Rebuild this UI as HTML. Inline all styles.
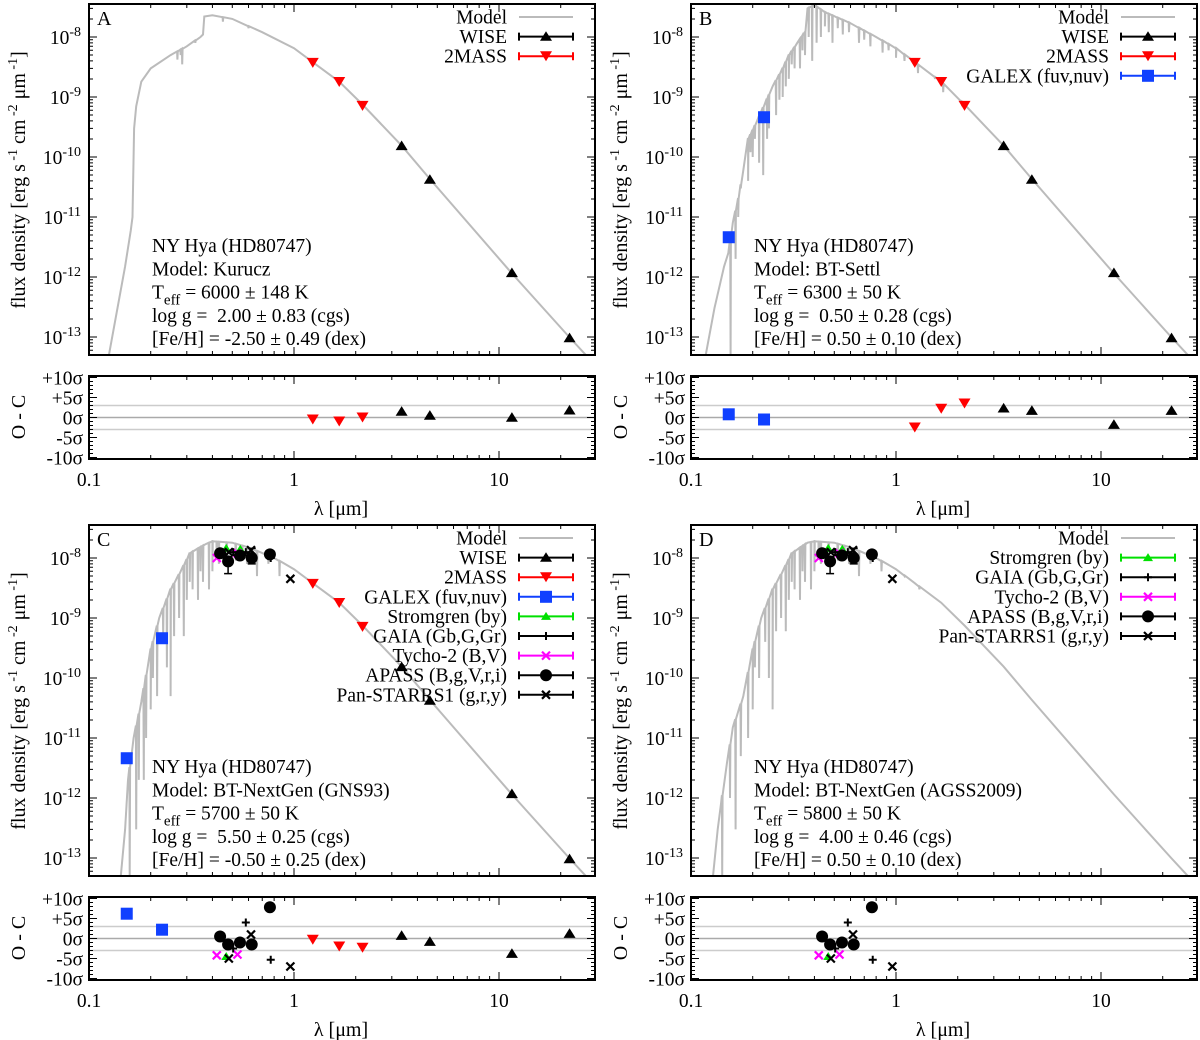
<!DOCTYPE html>
<html><head><meta charset="utf-8">
<style>
html,body{margin:0;padding:0;background:#fff;}
svg{display:block;font-family:"Liberation Serif","DejaVu Serif",serif;}
</style></head>
<body>
<svg id="fig" width="1200" height="1040" viewBox="0 0 1200 1040" xmlns="http://www.w3.org/2000/svg"></svg>
<script>
// ---------- data ----------
const wise_lam = [3.35, 4.6, 11.56, 22.09];
const twomass_lam = [1.235, 1.662, 2.159];
const galex_lam = [0.1528, 0.2271];
const strom_lam = [0.467, 0.547];
const gaia_lam = [0.505, 0.582, 0.77];
const tycho_lam = [0.42, 0.53];
const apass_lam = [0.436, 0.477, 0.545, 0.622, 0.763];
const panstarrs_lam = [0.481, 0.617, 0.96];

const wise_flux = [1.53e-10, 4.2e-11, 1.17e-12, 9.6e-14];
const twomass_flux = [3.7e-9, 1.78e-9, 7.1e-10];
const galex_flux = [4.6e-12, 4.6e-10];
const strom_flux = [1.45e-8, 1.4e-8];
const gaia_flux = [1.25e-8, 1.25e-8, 1.0e-8];
const tycho_flux = [1.0e-8, 1.2e-8];
const apass_flux = [1.2e-8, 8.8e-9, 1.1e-8, 1.0e-8, 1.15e-8];
const panstarrs_flux = [1.25e-8, 1.35e-8, 4.5e-9];

const resA_wise = [1.5, 0.5, 0, 1.8];
const resA_2mass = [-0.5, -1.0, 0.0];
const resB_wise = [2.3, 1.7, -1.8, 1.7];
const resB_2mass = [-2.5, 2.2, 3.5];
const resB_galex = [0.8, -0.5];
const resC_wise = [0.7, -0.8, -3.8, 1.2];
const resC_2mass = [-0.3, -2.0, -2.3];
const resC_galex = [6.2, 2.2];
const res_strom = [-4.5, -1.0];
const res_gaia = [-2.5, 4.0, -5.3];
const res_tycho = [-4.2, -4.0];
const res_apass = [0.5, -1.5, -1.0, -1.5, 7.8];
const res_panstarrs = [-5.0, 1.0, -7.0];

const modelA = [[0.125,5e-14],[0.15,1.5e-12],[0.16,6e-12],[0.163,1e-11],[0.166,3e-10],[0.17,7e-10],[0.18,1.8e-9],[0.2,3e-9],[0.25,5e-9],[0.3,7e-9],[0.35,1e-8],[0.36,1.1e-8],[0.365,2.2e-8],[0.4,2.3e-8],[0.5,2e-8],[0.7,1.2e-8],[1,6.5e-9],[1.235,3.8e-9],[1.662,1.8e-9],[2.159,7.5e-10],[3.35,1.55e-10],[4.6,4.3e-11],[11.56,1.15e-12],[22,1e-13],[32,2.5e-14]];
const dipsA = [[0.27,4.2e-9],[0.28,5e-9],[0.285,3.5e-9],[0.33,8e-9],[0.45,1.8e-8],[0.6,1.4e-8]];
const modelB = [[0.118,5e-14],[0.13,3e-13],[0.145,1.5e-12],[0.152,2.5e-12],[0.16,8e-12],[0.17,2e-11],[0.18,6e-11],[0.19,2e-10],[0.21,4e-10],[0.23,8e-10],[0.25,1.5e-9],[0.28,3e-9],[0.3,5e-9],[0.33,8e-9],[0.36,1.2e-8],[0.37,3e-8],[0.4,3.4e-8],[0.45,2.6e-8],[0.6,1.7e-8],[0.8,1e-8],[1,6.5e-9],[1.235,3.8e-9],[1.662,1.8e-9],[2.159,7.5e-10],[3.35,1.55e-10],[4.6,4.3e-11],[11.56,1.15e-12],[22,1e-13],[32,2.5e-14]];
const dipsB = [[0.156,5e-14],[0.165,2e-12],[0.17,1e-11],[0.175,3e-11],[0.19,4e-11],[0.195,1.2e-10],[0.2,1e-10],[0.205,2e-10],[0.215,8e-11],[0.225,5e-11],[0.235,2e-10],[0.24,3e-10],[0.26,5e-10],[0.27,9e-10],[0.28,1e-9],[0.29,1.5e-9],[0.3,2e-9],[0.31,3.5e-9],[0.32,3e-9],[0.34,3e-9],[0.35,6e-9],[0.36,5e-9],[0.375,1e-8],[0.39,4e-9],[0.41,8e-9],[0.43,1e-8],[0.45,1.5e-8],[0.47,1.2e-8],[0.49,8e-9],[0.52,1.4e-8],[0.55,1.1e-8],[0.59,1.2e-8],[0.66,8e-9],[0.7,9e-9],[0.75,7e-9],[0.86,5.5e-9],[0.92,6e-9],[1.0,4.5e-9],[1.1,4e-9],[1.28,2.5e-9],[1.55,2e-9],[1.7,1.2e-9],[2.1,7e-10]];
const modelC = [[0.143,5e-14],[0.15,3e-13],[0.155,2e-12],[0.165,1e-11],[0.18,4e-11],[0.2,3e-10],[0.22,1e-9],[0.25,3e-9],[0.28,6e-9],[0.31,1.2e-8],[0.37,1.7e-8],[0.4,1.9e-8],[0.5,1.8e-8],[0.6,1.5e-8],[0.8,1e-8],[1,6.5e-9],[1.235,3.8e-9],[1.662,1.8e-9],[2.159,7.5e-10],[3.35,1.55e-10],[4.6,4.3e-11],[11.56,1.15e-12],[22,1e-13],[32,2.5e-14]];
const dipsC = [[0.158,5e-14],[0.17,3e-13],[0.175,2e-12],[0.185,2e-12],[0.19,1e-11],[0.2,3e-11],[0.205,1e-10],[0.215,5e-11],[0.23,5e-10],[0.24,1.5e-10],[0.25,5e-11],[0.26,5e-10],[0.275,1e-9],[0.29,5e-10],[0.3,2e-9],[0.31,4e-9],[0.32,3e-9],[0.34,2e-9],[0.35,6e-9],[0.36,4e-9],[0.385,3e-9],[0.4,6e-9],[0.42,1e-8],[0.43,8e-9],[0.47,1e-8],[0.52,9e-9],[0.56,1.1e-8],[0.59,8e-9],[0.66,5e-9],[0.75,8e-9],[0.85,5e-9]];
const modelD = [[0.128,5e-14],[0.135,3e-13],[0.14,8e-13],[0.15,4e-12],[0.16,1.5e-11],[0.18,5e-11],[0.2,3e-10],[0.22,1e-9],[0.25,3e-9],[0.28,6e-9],[0.31,1.2e-8],[0.37,1.8e-8],[0.4,1.9e-8],[0.5,1.8e-8],[0.6,1.5e-8],[0.8,1e-8],[1,6.5e-9],[1.235,3.8e-9],[1.662,1.8e-9],[2.159,7.5e-10],[3.35,1.55e-10],[4.6,4.3e-11],[11.56,1.15e-12],[22,1e-13],[32,2.5e-14]];
const dipsD = [[0.142,5e-14],[0.155,1e-12],[0.165,3e-13],[0.175,5e-12],[0.19,1e-11],[0.2,3e-11],[0.205,1.5e-10],[0.215,1e-10],[0.23,4e-10],[0.24,1e-10],[0.25,3e-11],[0.26,6e-10],[0.275,1e-9],[0.29,6e-10],[0.3,2e-9],[0.31,4e-9],[0.32,3e-9],[0.34,2e-9],[0.35,6e-9],[0.36,4e-9],[0.385,3e-9],[0.4,6e-9],[0.42,1e-8],[0.43,8e-9],[0.47,1e-8],[0.52,9e-9],[0.56,1.1e-8],[0.59,8e-9],[0.66,5e-9],[0.75,8e-9],[0.85,6e-9],[1.1,5e-9],[1.3,3e-9]];

const yTickExp = [-8, -9, -10, -11, -12, -13];
const resTickVals = [10, 5, 0, -5, -10];
const resTickLabels = ["+10σ", "+5σ", "0σ", "-5σ", "-10σ"];
const xTickVals = [0.1, 1, 10];
const xTickLabels = ["0.1", "1", "10"];

// ---------- drawing ----------
const NS = "http://www.w3.org/2000/svg";
const svg = document.getElementById("fig");
function mk(tag, attrs, parent) {
  const e = document.createElementNS(NS, tag);
  for (const k in attrs) e.setAttribute(k, attrs[k]);
  (parent || svg).appendChild(e);
  return e;
}
const GRAY = "#bbbbbb";
const FS = 19.5;

function marker(g, type, cx, cy, name) {
  let e;
  if (type === "tri-up" || type === "tri-green") {
    const s = type === "tri-up" ? 6 : 5;
    e = mk("polygon", {points: `${cx-s},${cy+s*0.7} ${cx+s},${cy+s*0.7} ${cx},${cy-s*0.9}`, fill: type === "tri-up" ? "#000" : "#00e000"}, g);
  } else if (type === "tri-down") {
    e = mk("polygon", {points: `${cx-6},${cy-5} ${cx+6},${cy-5} ${cx},${cy+5}`, fill: "#ff0000"}, g);
  } else if (type === "square") {
    e = mk("rect", {x: cx-6, y: cy-6, width: 12, height: 12, fill: "#1040ff"}, g);
  } else if (type === "circle") {
    e = mk("circle", {cx: cx, cy: cy, r: 6, fill: "#000"}, g);
  } else if (type === "plus") {
    e = mk("path", {d: `M${cx-4},${cy}H${cx+4}M${cx},${cy-4}V${cy+4}`, stroke: "#000", "stroke-width": 2}, g);
  } else if (type === "x-mag" || type === "x-blk") {
    e = mk("path", {d: `M${cx-4},${cy-4}L${cx+4},${cy+4}M${cx-4},${cy+4}L${cx+4},${cy-4}`, stroke: type === "x-mag" ? "#ff00ff" : "#000", "stroke-width": 2.2}, g);
  }
  
  
  return e;
}

function interp(knots, lam) {
  const L = Math.log10(lam);
  for (let i = 0; i < knots.length - 1; i++) {
    const a = Math.log10(knots[i][0]), b = Math.log10(knots[i+1][0]);
    if (L >= a && L <= b) {
      const t = (L - a) / (b - a);
      return Math.pow(10, Math.log10(knots[i][1]) * (1 - t) + Math.log10(knots[i+1][1]) * t);
    }
  }
  return knots[knots.length - 1][1];
}

function panel(P) {
  const px = P.px, py = P.py;
  const x0 = px + 89, x1 = px + 595;
  const y0 = py + 4, y1 = py + 355;
  const ry0 = py + 376, ry1 = py + 459;
  const xs = l => x0 + 205 * Math.log10(l / 0.1);
  const ys = f => py + 37 + (-8 - Math.log10(f)) * 60;
  const rs = s => py + 417.5 - 4 * s;

  const g = mk("g", {});
  
  

  const cid = "clip" + P.letter;
  const cp = mk("clipPath", {id: cid}, g);
  mk("rect", {x: x0, y: y0, width: x1 - x0, height: y1 - y0}, cp);

  const pts = P.model.map(k => [k[0], k[1]]);
  P.dips.forEach(d => {
    const base = interp(P.model, d[0]);
    pts.push([d[0] * 0.996, base]); pts.push([d[0], d[1]]); pts.push([d[0] * 1.004, base]);
  });
  pts.sort((a, b) => a[0] - b[0]);
  const model = mk("polyline", {points: pts.map(p => xs(p[0]).toFixed(1) + "," + ys(p[1]).toFixed(1)).join(" "), fill: "none", stroke: GRAY, "stroke-width": 2, "clip-path": `url(#${cid})`}, g);
  
  

  [3, 0, -3].forEach(s => {
    const l = mk("line", {x1: x0, x2: x1, y1: rs(s), y2: rs(s), stroke: s === 0 ? "#aaa" : "#ccc", "stroke-width": 1.5}, g);
    
    
  });

  const fr = mk("rect", {x: x0, y: y0, width: x1 - x0, height: y1 - y0, fill: "none", stroke: "#000", "stroke-width": 2}, g);
  
  
  const rf = mk("rect", {x: x0, y: ry0, width: x1 - x0, height: ry1 - ry0, fill: "none", stroke: "#000", "stroke-width": 2}, g);
  
  

  let d = "";
  for (let dec = 0.1; dec < 100; dec *= 10) {
    for (let m = 1; m < 10; m++) {
      const l = dec * m; const x = xs(l);
      if (x > x1 + 0.5) break;
      const len = m === 1 ? 8 : 4;
      d += `M${x},${y1}v${-len}M${x},${y0}v${len}M${x},${ry1}v${-len}M${x},${ry0}v${len}`;
    }
  }
  for (let e = -7; e >= -14; e--) {
    for (let m = 1; m < 10; m++) {
      const f = Math.pow(10, e) * m; const y = ys(f);
      if (y < y0 || y > y1) continue;
      const len = m === 1 ? 8 : 4;
      d += `M${x0},${y}h${len}M${x1},${y}h${-len}`;
    }
  }
  for (let s = -10; s <= 10; s++) {
    const y = rs(s); const len = s % 5 === 0 ? 8 : 4;
    d += `M${x0},${y}h${len}M${x1},${y}h${-len}`;
  }
  const tk = mk("path", {d: d, stroke: "#000", "stroke-width": 1}, g);
  
  

  xTickVals.forEach((v, i) => {
    const t = mk("text", {x: xs(v), y: py + 486, "font-size": FS, "text-anchor": "middle"}, g);
    t.textContent = xTickLabels[i];
    
    
  });
  yTickExp.forEach(e => {
    const t = mk("text", {x: x0 - 8, y: ys(Math.pow(10, e)) + 7, "font-size": FS, "text-anchor": "end"}, g);
    const a = mk("tspan", {}, t); a.textContent = "10";
    const b = mk("tspan", {dy: -8, "font-size": 14}, t); b.textContent = String(e);
    
    
  });
  resTickVals.forEach((v, i) => {
    const t = mk("text", {x: x0 - 6, y: rs(v) + 7, "font-size": FS, "text-anchor": "end"}, g);
    t.textContent = resTickLabels[i];
    
    
  });

  const yt = mk("text", {transform: `translate(${px + 25},${py + 180}) rotate(-90)`, "font-size": 20, "text-anchor": "middle"}, g);
  yt.innerHTML = 'flux density [erg s<tspan dy="-8" font-size="14"> -1</tspan><tspan dy="8"> cm</tspan><tspan dy="-8" font-size="14"> -2</tspan><tspan dy="8"> μm</tspan><tspan dy="-8" font-size="14"> -1</tspan><tspan dy="8">]</tspan>';
  
  
  const ot = mk("text", {transform: `translate(${px + 25},${py + 417}) rotate(-90)`, "font-size": 20, "text-anchor": "middle"}, g);
  ot.textContent = "O - C";
  
  
  const xt = mk("text", {x: px + 341, y: py + 515, "font-size": 20, "text-anchor": "middle"}, g);
  xt.textContent = "λ [μm]";
  
  

  const lt = mk("text", {x: x0 + 8, y: y0 + 21, "font-size": 20}, g);
  lt.textContent = P.letter;
  
  

  P.notes.forEach((n, i) => {
    const t = mk("text", {x: px + 152, y: py + 252 + 23.3 * i, "font-size": FS, "xml:space": "preserve"}, g);
    t.innerHTML = n;
    
    
  });

  P.series.forEach(s => {
    if (s.err) s.err.forEach((e, i) => {
      const x = xs(s.lam[i]);
      const el = mk("path", {d: `M${x},${ys(e[0])}V${ys(e[1])}M${x-4},${ys(e[0])}h8M${x-4},${ys(e[1])}h8`, stroke: "#000", "stroke-width": 1.5}, g);
      
      
    });
    s.lam.forEach((l, i) => {
      if (s.flux) marker(g, s.type, xs(l), ys(s.flux[i]), s.name + '-point');
      if (s.res) marker(g, s.type, xs(l), rs(s.res[i]), s.name + '-residual');
    });
  });

  P.legend.forEach((L, i) => {
    const y = py + 17 + 19.6 * i;
    const t = mk("text", {x: px + 507, y: y + 6.5, "font-size": FS, "text-anchor": "end"}, g);
    t.textContent = L.label;
    
    
    if (L.type === "model") {
      const l = mk("line", {x1: px + 519, x2: px + 573, y1: y, y2: y, stroke: GRAY, "stroke-width": 2}, g);
      
      
    } else {
      const l = mk("path", {d: `M${px+519},${y}H${px+573}M${px+519},${y-4}v8M${px+573},${y-4}v8`, stroke: L.color, "stroke-width": 2}, g);
      
      
      marker(g, L.type, px + 546, y, 'legend-marker');
    }
  });
}

const optSeriesC = [
  {name: "stromgren", type: "tri-green", lam: strom_lam, flux: strom_flux, res: res_strom},
  {name: "tycho", type: "x-mag", lam: tycho_lam, flux: tycho_flux, res: res_tycho},
  {name: "gaia", type: "plus", lam: gaia_lam, flux: gaia_flux, res: res_gaia},
  {name: "apass", type: "circle", lam: apass_lam, flux: apass_flux, res: res_apass, err: [[1.35e-8,1.05e-8],[1.05e-8,5.5e-9],[1.25e-8,9.5e-9],[1.45e-8,8e-9],[1.25e-8,1.05e-8]]},
  {name: "panstarrs", type: "x-blk", lam: panstarrs_lam, flux: panstarrs_flux, res: res_panstarrs}
];
const L_model = {label: "Model", type: "model"};
const L_wise = {label: "WISE", type: "tri-up", color: "#000"};
const L_2mass = {label: "2MASS", type: "tri-down", color: "#ff0000"};
const L_galex = {label: "GALEX (fuv,nuv)", type: "square", color: "#1040ff"};
const L_opt = [
  {label: "Stromgren (by)", type: "tri-green", color: "#00e000"},
  {label: "GAIA (Gb,G,Gr)", type: "plus", color: "#000"},
  {label: "Tycho-2 (B,V)", type: "x-mag", color: "#ff00ff"},
  {label: "APASS (B,g,V,r,i)", type: "circle", color: "#000"},
  {label: "Pan-STARRS1 (g,r,y)", type: "x-blk", color: "#000"}
];
const teff = v => `T<tspan dy="6" font-size="15">eff</tspan><tspan dy="-6"> = ${v}</tspan>`;

panel({letter: "A", px: 0, py: 0, model: modelA, dips: dipsA,
  notes: ["NY Hya (HD80747)", "Model: Kurucz", teff("6000 ± 148 K"), "log g = &#160;2.00 ± 0.83 (cgs)", "[Fe/H] = -2.50 ± 0.49 (dex)"],
  series: [{name: "wise", type: "tri-up", lam: wise_lam, flux: wise_flux, res: resA_wise},
           {name: "2mass", type: "tri-down", lam: twomass_lam, flux: twomass_flux, res: resA_2mass}],
  legend: [L_model, L_wise, L_2mass]});
panel({letter: "B", px: 602, py: 0, model: modelB, dips: dipsB,
  notes: ["NY Hya (HD80747)", "Model: BT-Settl", teff("6300 ± 50 K"), "log g = &#160;0.50 ± 0.28 (cgs)", "[Fe/H] = 0.50 ± 0.10 (dex)"],
  series: [{name: "wise", type: "tri-up", lam: wise_lam, flux: wise_flux, res: resB_wise},
           {name: "2mass", type: "tri-down", lam: twomass_lam, flux: twomass_flux, res: resB_2mass},
           {name: "galex", type: "square", lam: galex_lam, flux: galex_flux, res: resB_galex}],
  legend: [L_model, L_wise, L_2mass, L_galex]});
panel({letter: "C", px: 0, py: 521, model: modelC, dips: dipsC,
  notes: ["NY Hya (HD80747)", "Model: BT-NextGen (GNS93)", teff("5700 ± 50 K"), "log g = &#160;5.50 ± 0.25 (cgs)", "[Fe/H] = -0.50 ± 0.25 (dex)"],
  series: [{name: "wise", type: "tri-up", lam: wise_lam, flux: wise_flux, res: resC_wise},
           {name: "2mass", type: "tri-down", lam: twomass_lam, flux: twomass_flux, res: resC_2mass},
           {name: "galex", type: "square", lam: galex_lam, flux: galex_flux, res: resC_galex}].concat(optSeriesC),
  legend: [L_model, L_wise, L_2mass, L_galex].concat(L_opt)});
panel({letter: "D", px: 602, py: 521, model: modelD, dips: dipsD,
  notes: ["NY Hya (HD80747)", "Model: BT-NextGen (AGSS2009)", teff("5800 ± 50 K"), "log g = &#160;4.00 ± 0.46 (cgs)", "[Fe/H] = 0.50 ± 0.10 (dex)"],
  series: optSeriesC,
  legend: [L_model].concat(L_opt)});
</script>
</body></html>
